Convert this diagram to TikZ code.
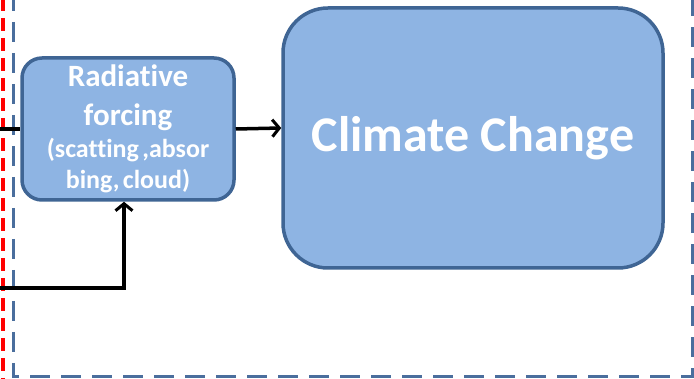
\documentclass[tikz,border=0pt]{standalone}
\usepackage{fontspec}
\setmainfont{Carlito}[RawFeature=-liga]
\usetikzlibrary{arrows.meta}
\definecolor{boxfill}{HTML}{8EB4E3}
\definecolor{boxline}{HTML}{3F6594}
\definecolor{frameblue}{HTML}{4A6E9D}
\definecolor{redline}{HTML}{FF0000}
\tikzset{
  shapebox/.style={draw=boxline, fill=boxfill, line width=3.5pt, text=white, font=\bfseries},
  conn/.style={line width=3.5pt, black},
  arr/.style={conn, -{Straight Barb[length=7pt,width=17pt,line width=3pt]}},
}
\begin{document}
\begin{tikzpicture}[x=1pt,y=-1pt]
\useasboundingbox (0,0) rectangle (694,379);
\begin{scope}
\clip (0,0) rectangle (694,379);
\draw[redline, line width=4pt, dash pattern=on 13pt off 7pt] (2.5,-2) -- (2.5,381);
\draw[frameblue, line width=3pt, dash pattern=on 20pt off 11pt] (13,-40) -- (13,377) -- (692,377) -- (692,-40);
\end{scope}
\node[shapebox, rounded corners=20pt, minimum width=212pt, minimum height=142pt, text width=200pt, align=center, inner sep=0pt] (rf) at (128,129)
  {{\fontsize{31}{39}\selectfont Radiative\\forcing\par}\vspace{1pt}{\fontsize{26}{31}\selectfont (scatting ,absor\\bing, cloud)\par}};
\node[shapebox, rounded corners=45pt, minimum width=380pt, minimum height=260pt, inner sep=0pt] (cc) at (473,138)
  {\fontsize{50}{58}\selectfont Climate Change};
\coordinate (inA) at (0,129);
\coordinate (inB) at (0,288);
\coordinate (bend) at (124,288);
\draw[conn] (inA) -- (rf.west |- inA);
\draw[arr] (rf.east |- 0,129) -- (cc.west |- 0,128);
\draw[arr] (inB) -- (bend) -- (bend |- rf.south);
\end{tikzpicture}
\end{document}
